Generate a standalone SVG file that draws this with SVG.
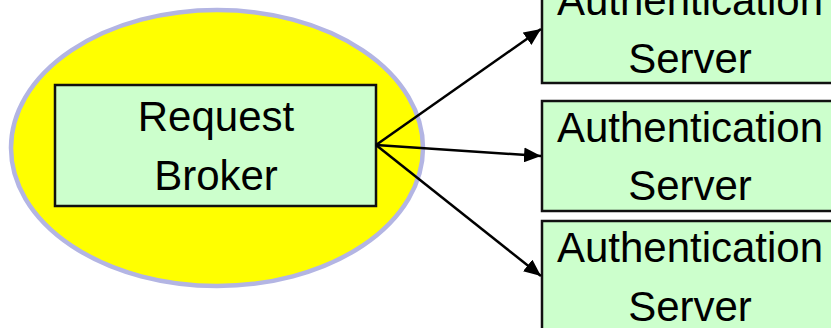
<svg xmlns="http://www.w3.org/2000/svg" width="831" height="328" viewBox="0 0 831 328">
<style>
.box{fill:#ccffcc;stroke:#111;stroke-width:2.5}
.t{font-family:"Liberation Sans",Arial,sans-serif;font-size:42px;fill:#000;text-anchor:middle}
.c{stroke:#000;stroke-width:2.5;fill:none;marker-end:url(#ah)}
</style>
<defs>
<marker id="ah" markerUnits="userSpaceOnUse" markerWidth="18" markerHeight="15" refX="17" refY="7.5" orient="auto">
<path d="M0,0 L17,7.5 L0,15 Z" fill="#000"/>
</marker>
</defs>
<rect width="831" height="328" fill="#fff"/>
<g id="broker-zone">
<ellipse cx="217" cy="148" rx="206" ry="138" fill="#ffff00" stroke="#b3b5e3" stroke-width="4.5"/>
</g>
<g id="broker">
<rect class="box" x="55" y="85" width="321" height="121"/>
<text class="t" x="216" y="131">Request</text>
<text class="t" x="216" y="190">Broker</text>
</g>
<g id="auth1">
<rect class="box" x="542" y="-27" width="300" height="110"/>
<text class="t" x="690" y="15">Authentication</text>
<text class="t" x="690" y="73">Server</text>
</g>
<g id="auth2">
<rect class="box" x="542" y="101" width="300" height="110"/>
<text class="t" x="690" y="142">Authentication</text>
<text class="t" x="690" y="200">Server</text>
</g>
<g id="auth3">
<rect class="box" x="542" y="221" width="300" height="112"/>
<text class="t" x="690" y="262">Authentication</text>
<text class="t" x="690" y="321">Server</text>
</g>
<g id="connectors">
<line class="c" x1="376" y1="145" x2="541" y2="29"/>
<line class="c" x1="376" y1="145" x2="541" y2="156"/>
<line class="c" x1="376" y1="145" x2="541" y2="276"/>
</g>
</svg>
